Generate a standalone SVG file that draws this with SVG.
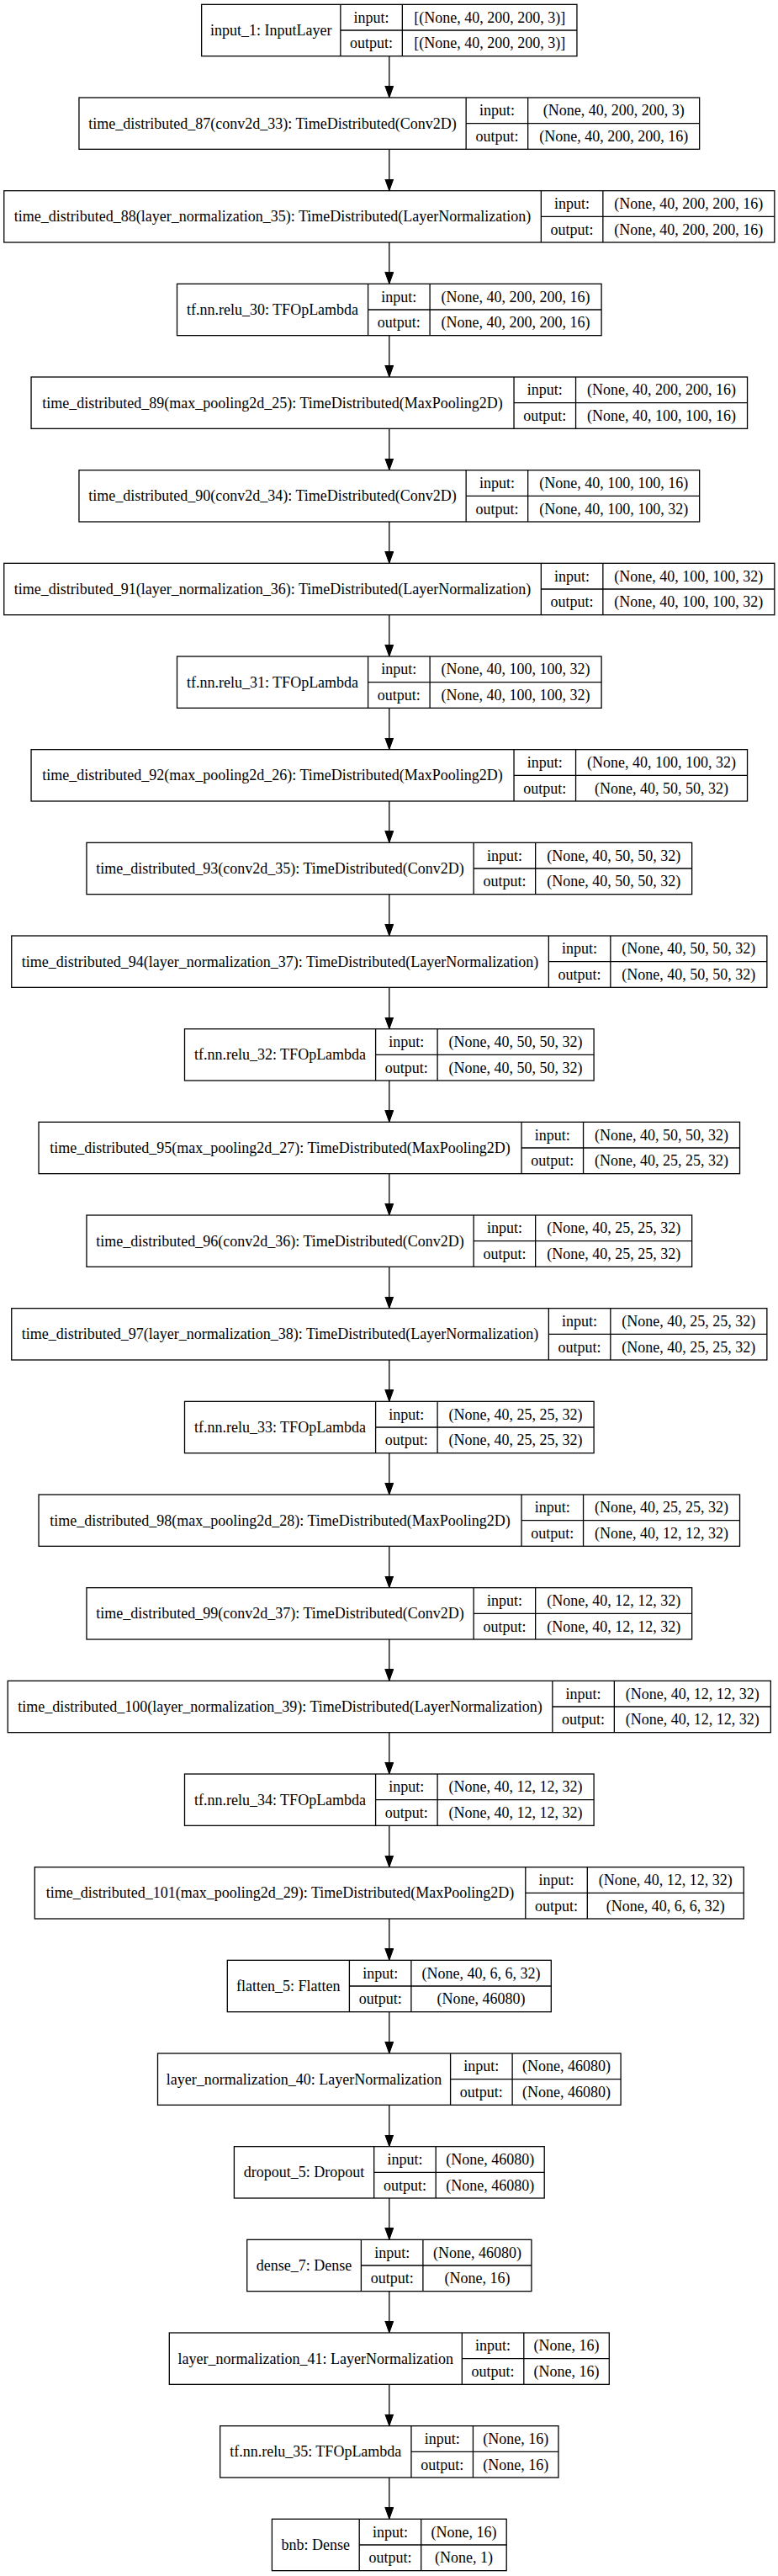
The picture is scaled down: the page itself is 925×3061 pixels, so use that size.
<svg xmlns="http://www.w3.org/2000/svg" width="925" height="3061" viewBox="0 0 925 3061">
<style>
.box{fill:#fff;stroke:#000;stroke-width:1.3}
.ln{fill:none;stroke:#000;stroke-width:1.3}
text{font-family:"Liberation Serif","Times New Roman",serif;font-size:18px;text-anchor:middle;fill:#000}
.edge{fill:none;stroke:#000;stroke-width:1.3}
</style>
<defs>
<marker id="ah" markerUnits="userSpaceOnUse" markerWidth="16" markerHeight="12" refX="14" refY="5" orient="auto">
<path d="M0,0 L14,5 L0,10 z" fill="#000" stroke="#000" stroke-width="1"/>
</marker>
</defs>
<rect x="0" y="0" width="925" height="3061" fill="#fff"/>
<g id="connectors">
<path class="edge" marker-end="url(#ah)" d="M462.8,66.67 V116"/>
<path class="edge" marker-end="url(#ah)" d="M462.8,177.33 V226.67"/>
<path class="edge" marker-end="url(#ah)" d="M462.8,288 V337.33"/>
<path class="edge" marker-end="url(#ah)" d="M462.8,398.67 V448"/>
<path class="edge" marker-end="url(#ah)" d="M462.8,509.33 V558.67"/>
<path class="edge" marker-end="url(#ah)" d="M462.8,620 V669.33"/>
<path class="edge" marker-end="url(#ah)" d="M462.8,730.67 V780"/>
<path class="edge" marker-end="url(#ah)" d="M462.8,841.33 V890.67"/>
<path class="edge" marker-end="url(#ah)" d="M462.8,952 V1001.33"/>
<path class="edge" marker-end="url(#ah)" d="M462.8,1062.67 V1112"/>
<path class="edge" marker-end="url(#ah)" d="M462.8,1173.33 V1222.67"/>
<path class="edge" marker-end="url(#ah)" d="M462.8,1284 V1333.33"/>
<path class="edge" marker-end="url(#ah)" d="M462.8,1394.67 V1444"/>
<path class="edge" marker-end="url(#ah)" d="M462.8,1505.33 V1554.67"/>
<path class="edge" marker-end="url(#ah)" d="M462.8,1616 V1665.33"/>
<path class="edge" marker-end="url(#ah)" d="M462.8,1726.67 V1776"/>
<path class="edge" marker-end="url(#ah)" d="M462.8,1837.33 V1886.67"/>
<path class="edge" marker-end="url(#ah)" d="M462.8,1948 V1997.33"/>
<path class="edge" marker-end="url(#ah)" d="M462.8,2058.67 V2108"/>
<path class="edge" marker-end="url(#ah)" d="M462.8,2169.33 V2218.67"/>
<path class="edge" marker-end="url(#ah)" d="M462.8,2280 V2329.33"/>
<path class="edge" marker-end="url(#ah)" d="M462.8,2390.67 V2440"/>
<path class="edge" marker-end="url(#ah)" d="M462.8,2501.33 V2550.67"/>
<path class="edge" marker-end="url(#ah)" d="M462.8,2612 V2661.33"/>
<path class="edge" marker-end="url(#ah)" d="M462.8,2722.67 V2772"/>
<path class="edge" marker-end="url(#ah)" d="M462.8,2833.33 V2882.67"/>
<path class="edge" marker-end="url(#ah)" d="M462.8,2944 V2993.33"/>
</g>

<g id="input_1" transform="translate(0,5.33)">
<rect class="box" x="239.65" y="0" width="446.3" height="61.33"/>
<path class="ln" d="M404.85,0 V61.33 M478.35,0 V61.33 M404.85,30.67 H685.95"/>
<text x="322.25" y="36.7">input_1: InputLayer</text>
<text x="441.6" y="21.3">input:</text><text x="441.6" y="52">output:</text>
<text x="582.15" y="21.3">[(None, 40, 200, 200, 3)]</text><text x="582.15" y="52">[(None, 40, 200, 200, 3)]</text>
</g>

<g id="time_distributed_87" transform="translate(0,116)">
<rect class="box" x="93.95" y="0" width="737.7" height="61.33"/>
<path class="ln" d="M554.15,0 V61.33 M627.65,0 V61.33 M554.15,30.67 H831.65"/>
<text x="324.05" y="36.7">time_distributed_87(conv2d_33): TimeDistributed(Conv2D)</text>
<text x="590.9" y="21.3">input:</text><text x="590.9" y="52">output:</text>
<text x="729.65" y="21.3">(None, 40, 200, 200, 3)</text><text x="729.65" y="52">(None, 40, 200, 200, 16)</text>
</g>

<g id="time_distributed_88" transform="translate(0,226.67)">
<rect class="box" x="4.75" y="0" width="916.1" height="61.33"/>
<path class="ln" d="M643.35,0 V61.33 M716.85,0 V61.33 M643.35,30.67 H920.85"/>
<text x="324.05" y="36.7">time_distributed_88(layer_normalization_35): TimeDistributed(LayerNormalization)</text>
<text x="680.1" y="21.3">input:</text><text x="680.1" y="52">output:</text>
<text x="818.85" y="21.3">(None, 40, 200, 200, 16)</text><text x="818.85" y="52">(None, 40, 200, 200, 16)</text>
</g>

<g id="tf_nn_relu_30" transform="translate(0,337.33)">
<rect class="box" x="210.5" y="0" width="504.6" height="61.33"/>
<path class="ln" d="M437.6,0 V61.33 M511.1,0 V61.33 M437.6,30.67 H715.1"/>
<text x="324.05" y="36.7">tf.nn.relu_30: TFOpLambda</text>
<text x="474.35" y="21.3">input:</text><text x="474.35" y="52">output:</text>
<text x="613.1" y="21.3">(None, 40, 200, 200, 16)</text><text x="613.1" y="52">(None, 40, 200, 200, 16)</text>
</g>

<g id="time_distributed_89" transform="translate(0,448)">
<rect class="box" x="37.05" y="0" width="851.5" height="61.33"/>
<path class="ln" d="M611.05,0 V61.33 M684.55,0 V61.33 M611.05,30.67 H888.55"/>
<text x="324.05" y="36.7">time_distributed_89(max_pooling2d_25): TimeDistributed(MaxPooling2D)</text>
<text x="647.8" y="21.3">input:</text><text x="647.8" y="52">output:</text>
<text x="786.55" y="21.3">(None, 40, 200, 200, 16)</text><text x="786.55" y="52">(None, 40, 100, 100, 16)</text>
</g>

<g id="time_distributed_90" transform="translate(0,558.67)">
<rect class="box" x="93.95" y="0" width="737.7" height="61.33"/>
<path class="ln" d="M554.15,0 V61.33 M627.65,0 V61.33 M554.15,30.67 H831.65"/>
<text x="324.05" y="36.7">time_distributed_90(conv2d_34): TimeDistributed(Conv2D)</text>
<text x="590.9" y="21.3">input:</text><text x="590.9" y="52">output:</text>
<text x="729.65" y="21.3">(None, 40, 100, 100, 16)</text><text x="729.65" y="52">(None, 40, 100, 100, 32)</text>
</g>

<g id="time_distributed_91" transform="translate(0,669.33)">
<rect class="box" x="4.75" y="0" width="916.1" height="61.33"/>
<path class="ln" d="M643.35,0 V61.33 M716.85,0 V61.33 M643.35,30.67 H920.85"/>
<text x="324.05" y="36.7">time_distributed_91(layer_normalization_36): TimeDistributed(LayerNormalization)</text>
<text x="680.1" y="21.3">input:</text><text x="680.1" y="52">output:</text>
<text x="818.85" y="21.3">(None, 40, 100, 100, 32)</text><text x="818.85" y="52">(None, 40, 100, 100, 32)</text>
</g>

<g id="tf_nn_relu_31" transform="translate(0,780)">
<rect class="box" x="210.5" y="0" width="504.6" height="61.33"/>
<path class="ln" d="M437.6,0 V61.33 M511.1,0 V61.33 M437.6,30.67 H715.1"/>
<text x="324.05" y="36.7">tf.nn.relu_31: TFOpLambda</text>
<text x="474.35" y="21.3">input:</text><text x="474.35" y="52">output:</text>
<text x="613.1" y="21.3">(None, 40, 100, 100, 32)</text><text x="613.1" y="52">(None, 40, 100, 100, 32)</text>
</g>

<g id="time_distributed_92" transform="translate(0,890.67)">
<rect class="box" x="37.05" y="0" width="851.5" height="61.33"/>
<path class="ln" d="M611.05,0 V61.33 M684.55,0 V61.33 M611.05,30.67 H888.55"/>
<text x="324.05" y="36.7">time_distributed_92(max_pooling2d_26): TimeDistributed(MaxPooling2D)</text>
<text x="647.8" y="21.3">input:</text><text x="647.8" y="52">output:</text>
<text x="786.55" y="21.3">(None, 40, 100, 100, 32)</text><text x="786.55" y="52">(None, 40, 50, 50, 32)</text>
</g>

<g id="time_distributed_93" transform="translate(0,1001.33)">
<rect class="box" x="102.95" y="0" width="719.7" height="61.33"/>
<path class="ln" d="M563.15,0 V61.33 M636.65,0 V61.33 M563.15,30.67 H822.65"/>
<text x="333.05" y="36.7">time_distributed_93(conv2d_35): TimeDistributed(Conv2D)</text>
<text x="599.9" y="21.3">input:</text><text x="599.9" y="52">output:</text>
<text x="729.65" y="21.3">(None, 40, 50, 50, 32)</text><text x="729.65" y="52">(None, 40, 50, 50, 32)</text>
</g>

<g id="time_distributed_94" transform="translate(0,1112)">
<rect class="box" x="13.75" y="0" width="898.1" height="61.33"/>
<path class="ln" d="M652.35,0 V61.33 M725.85,0 V61.33 M652.35,30.67 H911.85"/>
<text x="333.05" y="36.7">time_distributed_94(layer_normalization_37): TimeDistributed(LayerNormalization)</text>
<text x="689.1" y="21.3">input:</text><text x="689.1" y="52">output:</text>
<text x="818.85" y="21.3">(None, 40, 50, 50, 32)</text><text x="818.85" y="52">(None, 40, 50, 50, 32)</text>
</g>

<g id="tf_nn_relu_32" transform="translate(0,1222.67)">
<rect class="box" x="219.5" y="0" width="486.6" height="61.33"/>
<path class="ln" d="M446.6,0 V61.33 M520.1,0 V61.33 M446.6,30.67 H706.1"/>
<text x="333.05" y="36.7">tf.nn.relu_32: TFOpLambda</text>
<text x="483.35" y="21.3">input:</text><text x="483.35" y="52">output:</text>
<text x="613.1" y="21.3">(None, 40, 50, 50, 32)</text><text x="613.1" y="52">(None, 40, 50, 50, 32)</text>
</g>

<g id="time_distributed_95" transform="translate(0,1333.33)">
<rect class="box" x="46.05" y="0" width="833.5" height="61.33"/>
<path class="ln" d="M620.05,0 V61.33 M693.55,0 V61.33 M620.05,30.67 H879.55"/>
<text x="333.05" y="36.7">time_distributed_95(max_pooling2d_27): TimeDistributed(MaxPooling2D)</text>
<text x="656.8" y="21.3">input:</text><text x="656.8" y="52">output:</text>
<text x="786.55" y="21.3">(None, 40, 50, 50, 32)</text><text x="786.55" y="52">(None, 40, 25, 25, 32)</text>
</g>

<g id="time_distributed_96" transform="translate(0,1444)">
<rect class="box" x="102.95" y="0" width="719.7" height="61.33"/>
<path class="ln" d="M563.15,0 V61.33 M636.65,0 V61.33 M563.15,30.67 H822.65"/>
<text x="333.05" y="36.7">time_distributed_96(conv2d_36): TimeDistributed(Conv2D)</text>
<text x="599.9" y="21.3">input:</text><text x="599.9" y="52">output:</text>
<text x="729.65" y="21.3">(None, 40, 25, 25, 32)</text><text x="729.65" y="52">(None, 40, 25, 25, 32)</text>
</g>

<g id="time_distributed_97" transform="translate(0,1554.67)">
<rect class="box" x="13.75" y="0" width="898.1" height="61.33"/>
<path class="ln" d="M652.35,0 V61.33 M725.85,0 V61.33 M652.35,30.67 H911.85"/>
<text x="333.05" y="36.7">time_distributed_97(layer_normalization_38): TimeDistributed(LayerNormalization)</text>
<text x="689.1" y="21.3">input:</text><text x="689.1" y="52">output:</text>
<text x="818.85" y="21.3">(None, 40, 25, 25, 32)</text><text x="818.85" y="52">(None, 40, 25, 25, 32)</text>
</g>

<g id="tf_nn_relu_33" transform="translate(0,1665.33)">
<rect class="box" x="219.5" y="0" width="486.6" height="61.33"/>
<path class="ln" d="M446.6,0 V61.33 M520.1,0 V61.33 M446.6,30.67 H706.1"/>
<text x="333.05" y="36.7">tf.nn.relu_33: TFOpLambda</text>
<text x="483.35" y="21.3">input:</text><text x="483.35" y="52">output:</text>
<text x="613.1" y="21.3">(None, 40, 25, 25, 32)</text><text x="613.1" y="52">(None, 40, 25, 25, 32)</text>
</g>

<g id="time_distributed_98" transform="translate(0,1776)">
<rect class="box" x="46.05" y="0" width="833.5" height="61.33"/>
<path class="ln" d="M620.05,0 V61.33 M693.55,0 V61.33 M620.05,30.67 H879.55"/>
<text x="333.05" y="36.7">time_distributed_98(max_pooling2d_28): TimeDistributed(MaxPooling2D)</text>
<text x="656.8" y="21.3">input:</text><text x="656.8" y="52">output:</text>
<text x="786.55" y="21.3">(None, 40, 25, 25, 32)</text><text x="786.55" y="52">(None, 40, 12, 12, 32)</text>
</g>

<g id="time_distributed_99" transform="translate(0,1886.67)">
<rect class="box" x="102.95" y="0" width="719.7" height="61.33"/>
<path class="ln" d="M563.15,0 V61.33 M636.65,0 V61.33 M563.15,30.67 H822.65"/>
<text x="333.05" y="36.7">time_distributed_99(conv2d_37): TimeDistributed(Conv2D)</text>
<text x="599.9" y="21.3">input:</text><text x="599.9" y="52">output:</text>
<text x="729.65" y="21.3">(None, 40, 12, 12, 32)</text><text x="729.65" y="52">(None, 40, 12, 12, 32)</text>
</g>

<g id="time_distributed_100" transform="translate(0,1997.33)">
<rect class="box" x="9.25" y="0" width="907.1" height="61.33"/>
<path class="ln" d="M656.85,0 V61.33 M730.35,0 V61.33 M656.85,30.67 H916.35"/>
<text x="333.05" y="36.7">time_distributed_100(layer_normalization_39): TimeDistributed(LayerNormalization)</text>
<text x="693.6" y="21.3">input:</text><text x="693.6" y="52">output:</text>
<text x="823.35" y="21.3">(None, 40, 12, 12, 32)</text><text x="823.35" y="52">(None, 40, 12, 12, 32)</text>
</g>

<g id="tf_nn_relu_34" transform="translate(0,2108)">
<rect class="box" x="219.5" y="0" width="486.6" height="61.33"/>
<path class="ln" d="M446.6,0 V61.33 M520.1,0 V61.33 M446.6,30.67 H706.1"/>
<text x="333.05" y="36.7">tf.nn.relu_34: TFOpLambda</text>
<text x="483.35" y="21.3">input:</text><text x="483.35" y="52">output:</text>
<text x="613.1" y="21.3">(None, 40, 12, 12, 32)</text><text x="613.1" y="52">(None, 40, 12, 12, 32)</text>
</g>

<g id="time_distributed_101" transform="translate(0,2218.67)">
<rect class="box" x="41.3" y="0" width="843" height="61.33"/>
<path class="ln" d="M624.8,0 V61.33 M698.3,0 V61.33 M624.8,30.67 H884.3"/>
<text x="333.05" y="36.7">time_distributed_101(max_pooling2d_29): TimeDistributed(MaxPooling2D)</text>
<text x="661.55" y="21.3">input:</text><text x="661.55" y="52">output:</text>
<text x="791.3" y="21.3">(None, 40, 12, 12, 32)</text><text x="791.3" y="52">(None, 40, 6, 6, 32)</text>
</g>

<g id="flatten_5" transform="translate(0,2329.33)">
<rect class="box" x="270.3" y="0" width="385" height="61.33"/>
<path class="ln" d="M415.4,0 V61.33 M488.9,0 V61.33 M415.4,30.67 H655.3"/>
<text x="342.85" y="36.7">flatten_5: Flatten</text>
<text x="452.15" y="21.3">input:</text><text x="452.15" y="52">output:</text>
<text x="572.1" y="21.3">(None, 40, 6, 6, 32)</text><text x="572.1" y="52">(None, 46080)</text>
</g>

<g id="layer_normalization_40" transform="translate(0,2440)">
<rect class="box" x="187.5" y="0" width="550.6" height="61.33"/>
<path class="ln" d="M535.6,0 V61.33 M609.1,0 V61.33 M535.6,30.67 H738.1"/>
<text x="361.55" y="36.7">layer_normalization_40: LayerNormalization</text>
<text x="572.35" y="21.3">input:</text><text x="572.35" y="52">output:</text>
<text x="673.6" y="21.3">(None, 46080)</text><text x="673.6" y="52">(None, 46080)</text>
</g>

<g id="dropout_5" transform="translate(0,2550.67)">
<rect class="box" x="278.4" y="0" width="368.8" height="61.33"/>
<path class="ln" d="M444.7,0 V61.33 M518.2,0 V61.33 M444.7,30.67 H647.2"/>
<text x="361.55" y="36.7">dropout_5: Dropout</text>
<text x="481.45" y="21.3">input:</text><text x="481.45" y="52">output:</text>
<text x="582.7" y="21.3">(None, 46080)</text><text x="582.7" y="52">(None, 46080)</text>
</g>

<g id="dense_7" transform="translate(0,2661.33)">
<rect class="box" x="293.7" y="0" width="338.2" height="61.33"/>
<path class="ln" d="M429.4,0 V61.33 M502.9,0 V61.33 M429.4,30.67 H631.9"/>
<text x="361.55" y="36.7">dense_7: Dense</text>
<text x="466.15" y="21.3">input:</text><text x="466.15" y="52">output:</text>
<text x="567.4" y="21.3">(None, 46080)</text><text x="567.4" y="52">(None, 16)</text>
</g>

<g id="layer_normalization_41" transform="translate(0,2772)">
<rect class="box" x="201.3" y="0" width="523" height="61.33"/>
<path class="ln" d="M549.3,0 V61.33 M622.8,0 V61.33 M549.3,30.67 H724.3"/>
<text x="375.3" y="36.7">layer_normalization_41: LayerNormalization</text>
<text x="586.05" y="21.3">input:</text><text x="586.05" y="52">output:</text>
<text x="673.55" y="21.3">(None, 16)</text><text x="673.55" y="52">(None, 16)</text>
</g>

<g id="tf_nn_relu_35" transform="translate(0,2882.67)">
<rect class="box" x="261.65" y="0" width="402.3" height="61.33"/>
<path class="ln" d="M488.95,0 V61.33 M562.45,0 V61.33 M488.95,30.67 H663.95"/>
<text x="375.3" y="36.7">tf.nn.relu_35: TFOpLambda</text>
<text x="525.7" y="21.3">input:</text><text x="525.7" y="52">output:</text>
<text x="613.2" y="21.3">(None, 16)</text><text x="613.2" y="52">(None, 16)</text>
</g>

<g id="bnb" transform="translate(0,2993.33)">
<rect class="box" x="323.4" y="0" width="278.8" height="61.33"/>
<path class="ln" d="M427.2,0 V61.33 M500.7,0 V61.33 M427.2,30.67 H602.2"/>
<text x="375.3" y="36.7">bnb: Dense</text>
<text x="463.95" y="21.3">input:</text><text x="463.95" y="52">output:</text>
<text x="551.45" y="21.3">(None, 16)</text><text x="551.45" y="52">(None, 1)</text>
</g>
</svg>
